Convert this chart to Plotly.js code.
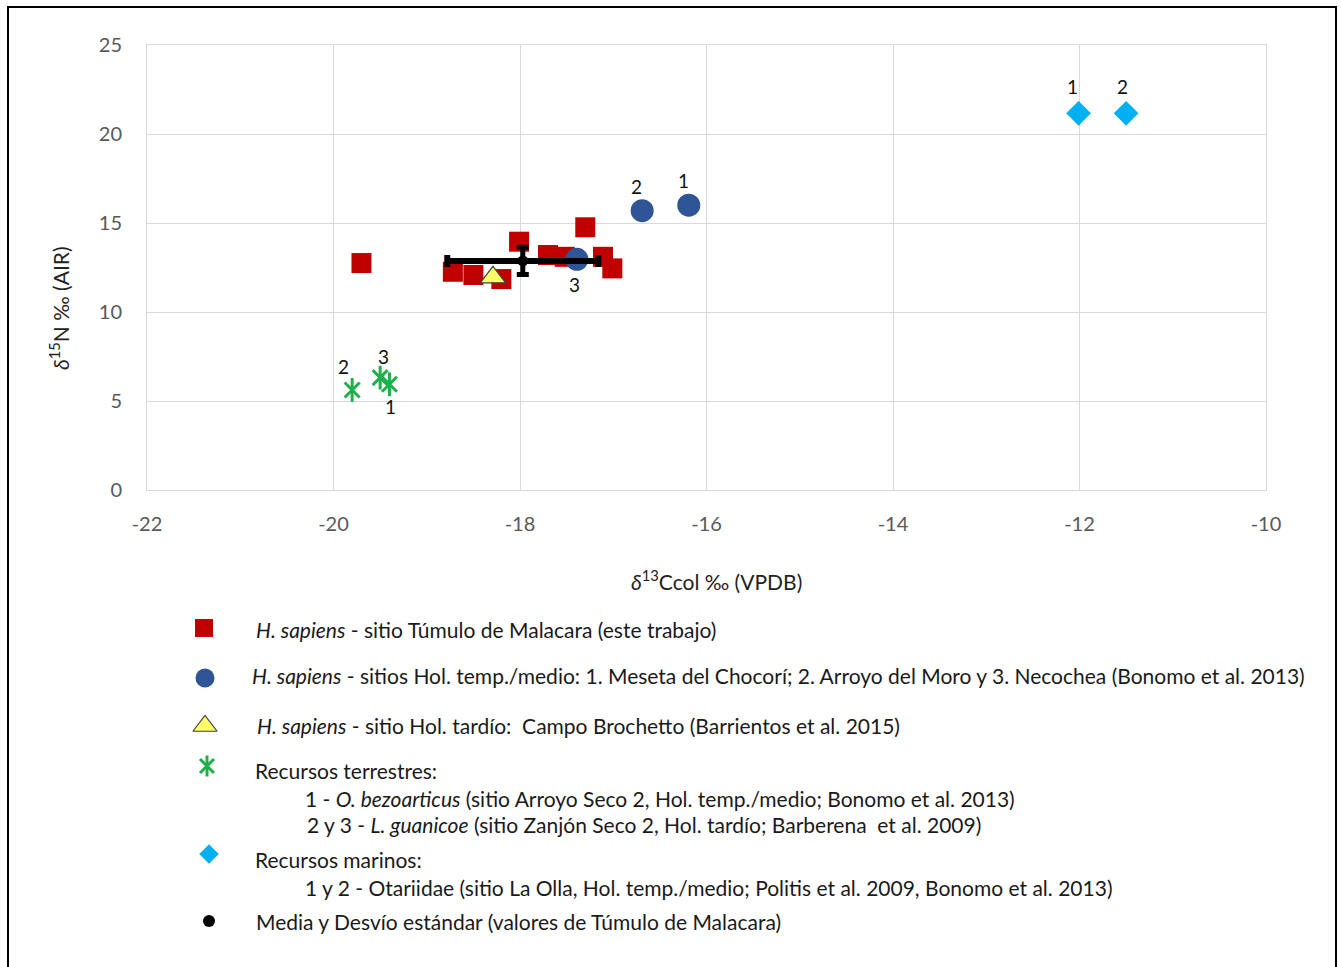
<!DOCTYPE html>
<html><head><meta charset="utf-8">
<script src="https://cdn.plot.ly/plotly-3.0.1.min.js"></script>
<style>body{margin:0;background:#fff}#chart{width:1341px;height:967px}</style>
</head><body><div id="chart"></div>
<script>
// ---- data ----
const malacaraX = [-19.70, -18.72, -18.50, -18.20, -18.01, -17.70, -17.52, -17.30, -17.11, -17.01];
const malacaraY = [12.75, 12.26, 12.08, 11.85, 13.95, 13.20, 13.10, 14.76, 13.10, 12.45];
const holTempX = [-16.19, -16.69, -17.39];
const holTempY = [16.00, 15.69, 12.96];
const holTempLabels = ['1', '2', '3'];
const holTardioX = [-18.29];
const holTardioY = [11.95];
const terrX = [-19.40, -19.80, -19.50];
const terrY = [5.94, 5.62, 6.31];
const terrLabels = ['1', '2', '3'];
const marX = [-12.01, -11.50];
const marY = [21.16, 21.16];
const marLabels = ['1', '2'];
const meanX = [-17.97];
const meanY = [12.87];
const sdX = [0.81];
const sdY = [0.77];
const xTicks = [-22, -20, -18, -16, -14, -12, -10];
const xTickText = ['-22', '-20', '-18', '-16', '-14', '-12', '-10'];
const yTicks = [0, 5, 10, 15, 20, 25];

// ---- styles / layout constants ----
const W = 1341, H = 967;
const FONT = 'Lato, "Open Sans", sans-serif';
const RED = '#C00000', BLUE = '#2F5597', YEL = '#FFFF66', GREEN = '#1FB04C', CYAN = '#00B0F0';
const GRID = '#D9D9D9';

const traces = [];
traces.push({x: malacaraX, y: malacaraY, mode: 'markers', type: 'scatter',
  marker: {symbol: 'square', size: 20, color: RED}});
traces.push({x: holTempX, y: holTempY, mode: 'markers', type: 'scatter',
  marker: {symbol: 'circle', size: 23, color: BLUE}});
traces.push({x: holTardioX, y: holTardioY, mode: 'markers', type: 'scatter',
  marker: {symbol: 'triangle-up', size: 22, color: YEL, line: {color: '#404040', width: 1.2}}});
traces.push({x: terrX, y: terrY, mode: 'markers', type: 'scatter',
  marker: {symbol: 'x-thin-open', size: 15, color: GREEN, line: {color: GREEN, width: 3}}});
traces.push({x: terrX, y: terrY, mode: 'markers', type: 'scatter',
  marker: {symbol: 'line-ns-open', size: 17, color: GREEN, line: {color: GREEN, width: 3}}});
traces.push({x: marX, y: marY, mode: 'markers', type: 'scatter',
  marker: {symbol: 'diamond', size: 19, color: CYAN}});
traces.push({x: meanX, y: meanY, mode: 'markers', type: 'scatter',
  marker: {symbol: 'circle', size: 11, color: '#000'},
  error_x: {type: 'data', array: sdX, visible: true, color: '#000', thickness: 6, width: 6},
  error_y: {type: 'data', array: sdY, visible: true, color: '#000', thickness: 5, width: 6}});

// legend keys on an overlay pixel axis (layout positions)
const legendKeys = [
  {px: 204, py: 628, symbol: 'square', size: 18, color: RED},
  {px: 205, py: 678, symbol: 'circle', size: 19, color: BLUE},
  {px: 205, py: 726, symbol: 'triangle-up', size: 21, color: YEL, line: {color: '#404040', width: 1.2}},
  {px: 207, py: 766, symbol: 'x-thin-open', size: 14, color: GREEN, line: {color: GREEN, width: 3}},
  {px: 207, py: 766, symbol: 'line-ns-open', size: 15, color: GREEN, line: {color: GREEN, width: 3}},
  {px: 209, py: 854, symbol: 'diamond', size: 15, color: CYAN},
  {px: 209, py: 921, symbol: 'circle', size: 12, color: '#000'}
];
legendKeys.forEach(k => traces.push({x: [k.px], y: [k.py], xaxis: 'x2', yaxis: 'y2', mode: 'markers', type: 'scatter',
  marker: {symbol: k.symbol, size: k.size, color: k.color, line: k.line || {width: 0}}}));

const legendTexts = [
  {px: 257, py: 629, t: '<i>H. sapiens</i> - sitio Túmulo de Malacara (este trabajo)'},
  {px: 253, py: 675, t: '<i>H. sapiens</i> - sitios Hol. temp./medio: 1. Meseta del Chocorí; 2. Arroyo del Moro y 3. Necochea (Bonomo et al. 2013)'},
  {px: 258, py: 725, t: '<i>H. sapiens</i> - sitio Hol. tardío:  Campo Brochetto (Barrientos et al. 2015)'},
  {px: 256, py: 770, t: 'Recursos terrestres:'},
  {px: 306, py: 798, t: '1 - <i>O. bezoarticus</i> (sitio Arroyo Seco 2, Hol. temp./medio; Bonomo et al. 2013)'},
  {px: 308, py: 824, t: '2 y 3 - <i>L. guanicoe</i> (sitio Zanjón Seco 2, Hol. tardío; Barberena  et al. 2009)'},
  {px: 256, py: 859, t: 'Recursos marinos:'},
  {px: 306, py: 887, t: '1 y 2 - Otariidae (sitio La Olla, Hol. temp./medio; Politis et al. 2009, Bonomo et al. 2013)'},
  {px: 257, py: 921, t: 'Media y Desvío estándar (valores de Túmulo de Malacara)'}
];

const annotations = [];
legendTexts.forEach(l => annotations.push({xref: 'x2', yref: 'y2', x: l.px - 3, y: l.py, text: l.t, showarrow: false,
  xanchor: 'left', yanchor: 'middle', font: {family: FONT, size: 21, color: '#1a1a1a'}}));

// point labels
const holOff = [[-5, 25], [-6, 24], [-2, -25]];
holTempLabels.forEach((t, i) => annotations.push({x: holTempX[i], y: holTempY[i], text: t, showarrow: false,
  xshift: holOff[i][0], yshift: holOff[i][1], font: {family: FONT, size: 19, color: '#111'}}));
const terrOff = [[1, -22], [-9, 23], [3, 21]];
terrLabels.forEach((t, i) => annotations.push({x: terrX[i], y: terrY[i], text: t, showarrow: false,
  xshift: terrOff[i][0], yshift: terrOff[i][1], font: {family: FONT, size: 19, color: '#111'}}));
const marOff = [[-6, 27], [-4, 27]];
marLabels.forEach((t, i) => annotations.push({x: marX[i], y: marY[i], text: t, showarrow: false,
  xshift: marOff[i][0], yshift: marOff[i][1], font: {family: FONT, size: 19, color: '#111'}}));

// axis titles
annotations.push({xref: 'x2', yref: 'y2', x: 716, y: 580, text: '<i>δ</i><sup>13</sup>Ccol ‰ (VPDB)', showarrow: false,
  font: {family: FONT, size: 21, color: '#222'}});
annotations.push({xref: 'x2', yref: 'y2', x: 59, y: 308, text: '<i>δ</i><sup>15</sup>N ‰ (AIR)', showarrow: false, textangle: -90,
  font: {family: FONT, size: 21, color: '#222'}});

const layout = {
  width: W, height: H, margin: {l: 0, r: 0, t: 0, b: 0},
  paper_bgcolor: '#fff', plot_bgcolor: 'rgba(0,0,0,0)', showlegend: false,
  xaxis: {domain: [147 / W, 1266 / W], range: [-22, -10], tickvals: xTicks, ticktext: xTickText, ticks: '', showgrid: true, gridcolor: GRID,
    zeroline: false, showline: true, mirror: true, linecolor: GRID, linewidth: 1, automargin: false,
    tickfont: {family: FONT, size: 20, color: '#595959'}, ticklabelstandoff: 16, fixedrange: true},
  yaxis: {domain: [(H - 490) / H, (H - 45) / H], range: [0, 25], tickvals: yTicks, ticks: '', showgrid: true, gridcolor: GRID,
    zeroline: false, showline: true, mirror: true, linecolor: GRID, linewidth: 1, automargin: false,
    tickfont: {family: FONT, size: 20, color: '#595959'}, ticklabelstandoff: 20, fixedrange: true},
  xaxis2: {domain: [0, 1], range: [0, W], visible: false, fixedrange: true, anchor: 'y2'},
  yaxis2: {domain: [0, 1], range: [H, 0], visible: false, fixedrange: true, anchor: 'x2'},
  annotations: annotations,
  shapes: [{type: 'rect', xref: 'x2', yref: 'y2', x0: 8, x1: 1336, y0: 7, y1: 985, line: {color: '#000', width: 2}}]
};

Plotly.newPlot('chart', traces, layout, {displayModeBar: false, staticPlot: true});
</script></body></html>
